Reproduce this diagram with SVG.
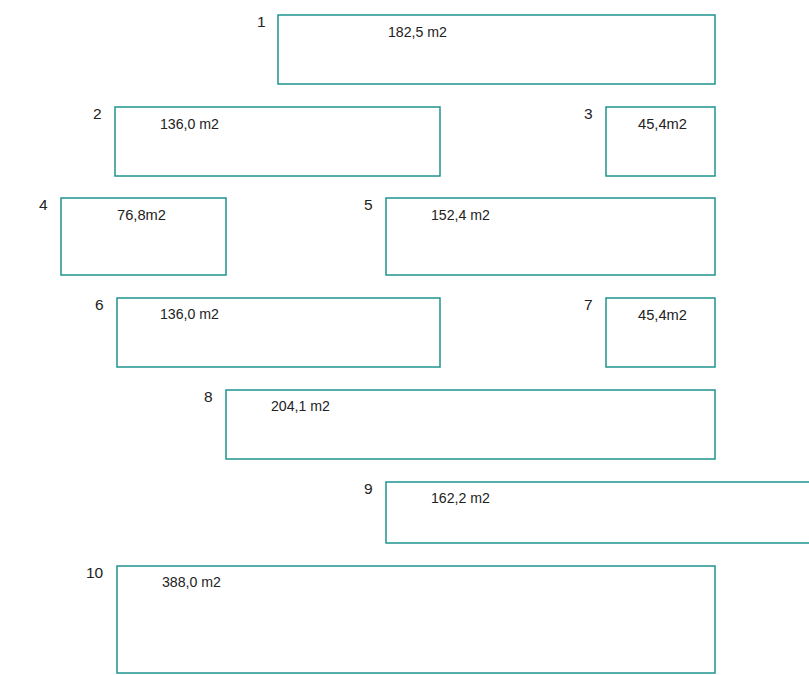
<svg xmlns="http://www.w3.org/2000/svg" width="809" height="675" viewBox="0 0 809 675">
<style>
.box{fill:#fff;stroke:#1f9490;stroke-width:1.5}
.t{font-family:"Liberation Sans",Arial,sans-serif;font-size:15.5px;fill:#222}
.n{font-family:"Liberation Sans",Arial,sans-serif;font-size:15.5px;fill:#222}
</style>
<rect width="809" height="675" fill="#fff"/>
<g id="node1"><rect class="box" x="278" y="15" width="437" height="69"/><text class="n" x="257" y="27">1</text><text class="t" x="388" y="37" textLength="59" lengthAdjust="spacingAndGlyphs">182,5 m2</text></g>
<g id="node2"><rect class="box" x="115" y="107" width="325" height="69"/><text class="n" x="93" y="119">2</text><text class="t" x="160" y="129" textLength="59" lengthAdjust="spacingAndGlyphs">136,0 m2</text></g>
<g id="node3"><rect class="box" x="606" y="107" width="109" height="69"/><text class="n" x="584" y="119">3</text><text class="t" x="638" y="129" textLength="49" lengthAdjust="spacingAndGlyphs">45,4m2</text></g>
<g id="node4"><rect class="box" x="61" y="198" width="165" height="77"/><text class="n" x="39" y="210">4</text><text class="t" x="117" y="220" textLength="49" lengthAdjust="spacingAndGlyphs">76,8m2</text></g>
<g id="node5"><rect class="box" x="386" y="198" width="329" height="77"/><text class="n" x="364" y="210">5</text><text class="t" x="431" y="220" textLength="59" lengthAdjust="spacingAndGlyphs">152,4 m2</text></g>
<g id="node6"><rect class="box" x="117" y="298" width="323" height="69"/><text class="n" x="95" y="310">6</text><text class="t" x="160" y="319" textLength="59" lengthAdjust="spacingAndGlyphs">136,0 m2</text></g>
<g id="node7"><rect class="box" x="606" y="298" width="109" height="69"/><text class="n" x="584" y="310">7</text><text class="t" x="638" y="320" textLength="49" lengthAdjust="spacingAndGlyphs">45,4m2</text></g>
<g id="node8"><rect class="box" x="226" y="390" width="489" height="69"/><text class="n" x="204" y="402">8</text><text class="t" x="271" y="411" textLength="59" lengthAdjust="spacingAndGlyphs">204,1 m2</text></g>
<g id="node9"><rect class="box" x="386" y="482" width="440" height="61"/><text class="n" x="364" y="494">9</text><text class="t" x="431" y="503" textLength="59" lengthAdjust="spacingAndGlyphs">162,2 m2</text></g>
<g id="node10"><rect class="box" x="117" y="566" width="598" height="107"/><text class="n" x="86" y="578">10</text><text class="t" x="162" y="587" textLength="59" lengthAdjust="spacingAndGlyphs">388,0 m2</text></g>
<g id="connectors"/>
</svg>
